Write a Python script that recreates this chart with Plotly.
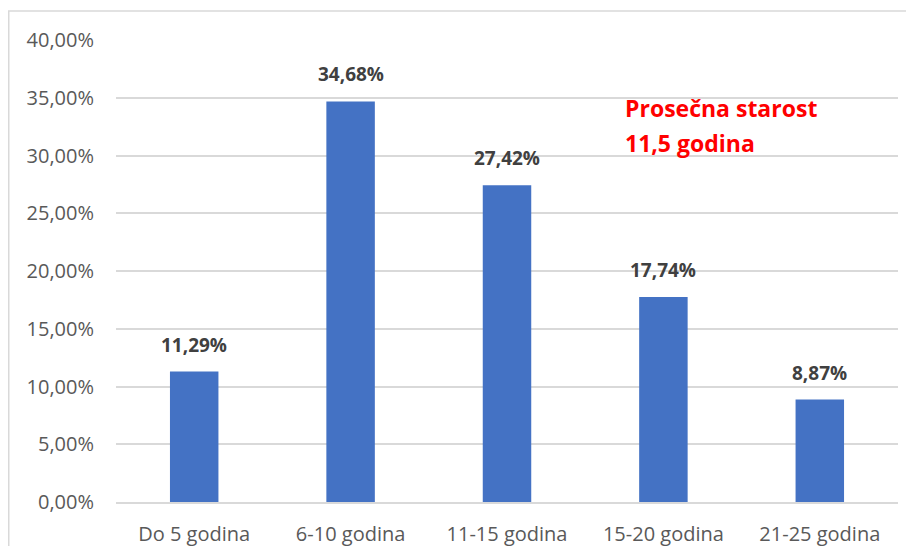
import plotly.graph_objects as go

categories = ["Do 5 godina", "6-10 godina", "11-15 godina", "15-20 godina", "21-25 godina"]
values = [11.29, 34.68, 27.42, 17.74, 8.87]
y_ticks = [0, 5, 10, 15, 20, 25, 30, 35, 40]
note_lines = ["Prosečna starost", "11,5 godina"]

def fmt(v):
    return f"{v:.2f}".replace(".", ",") + "%"

fig = go.Figure()
fig.add_trace(go.Bar(
    x=categories, y=values,
    marker=dict(color="#4472C4", line=dict(width=0)),
    width=0.31,
    hoverinfo="skip",
))

for c, v in zip(categories, values):
    fig.add_annotation(x=c, y=v, text="<b>" + fmt(v) + "</b>", showarrow=False,
                       yanchor="bottom", yshift=12,
                       font=dict(family="Open Sans", size=19, color="#404040"))

for line, yp in zip(note_lines, [0.853, 0.777]):
    fig.add_annotation(xref="paper", yref="paper", x=0.648, y=yp,
                       xanchor="left", yanchor="middle", align="left",
                       text="<b>" + line + "</b>", showarrow=False,
                       font=dict(family="Open Sans", size=23, color="#FF0000"))

# page body has an 8px margin; figure sized to fit inside the window
W, H = 898, 538
ml, mr, mt, mb = 108, 8, 32, 44
pw, ph = W - ml - mr, H - mt - mb
bx0 = (0.75 - ml) / pw
by1 = (H - mb - 3) / ph
by0 = (H - mb - 560) / ph
fig.add_shape(type="path", xref="paper", yref="paper",
              path=f"M {bx0},{by0} L {bx0},{by1} L 1.05,{by1}",
              line=dict(color="#D9D9D9", width=1.5))

fig.update_layout(
    width=W, height=H,
    margin=dict(l=ml, r=mr, t=mt, b=mb),
    paper_bgcolor="white", plot_bgcolor="white",
    showlegend=False,
    xaxis=dict(showgrid=False, showline=True, linecolor="#D9D9D9", linewidth=1.5,
               ticks="", ticklabelstandoff=13, automargin=False,
               tickfont=dict(family="Open Sans", size=20, color="#595959")),
    yaxis=dict(range=[0, 40], tickmode="array", tickvals=y_ticks,
               ticktext=[fmt(t) for t in y_ticks], automargin=False,
               showgrid=True, gridcolor="#D9D9D9", gridwidth=1.5, zeroline=False,
               ticks="", ticklabelstandoff=21,
               tickfont=dict(family="Open Sans", size=20, color="#595959")),
)

fig.write_html("out.html")
